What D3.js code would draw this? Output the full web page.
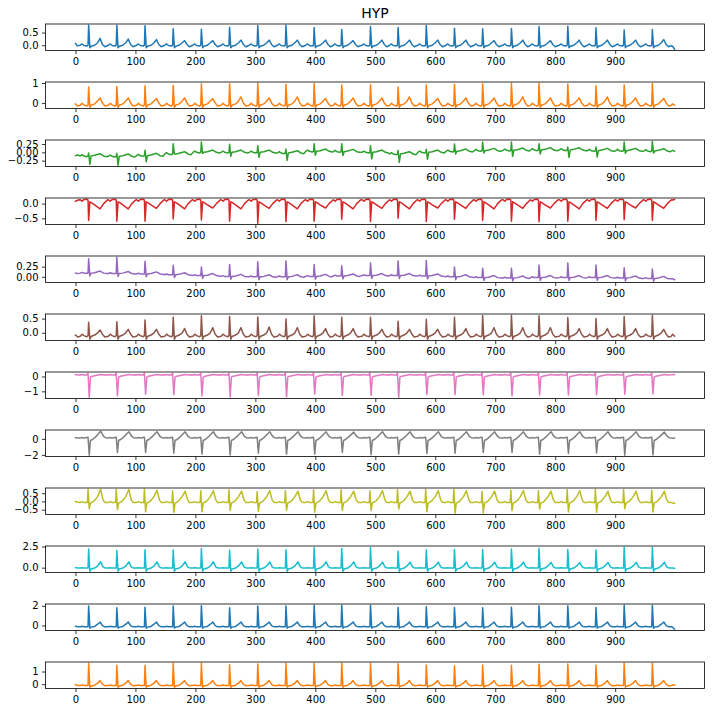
<!DOCTYPE html>
<html><head><meta charset="utf-8">
<script src="https://cdn.jsdelivr.net/npm/d3@7"></script>
<style>body{margin:0;background:#fff}svg{display:block}text{font-family:"DejaVu Sans",sans-serif}</style>
</head><body><div id="chart"></div>
<script>
// ---------------- data ----------------
const title = "HYP";
const leadNames = ["I","II","III","aVR","aVL","aVF","V1","V2","V3","V4","V5","V6"];
const colors = ["#1f77b4","#ff7f0e","#2ca02c","#d62728","#9467bd","#8c564b","#e377c2","#7f7f7f","#bcbd22","#17becf","#1f77b4","#ff7f0e"];
const xTicks = [0,100,200,300,400,500,600,700,800,900];
const yTicks = [[0,0.5],[0,1],[-0.25,0,0.25],[-0.5,0],[0,0.25],[0,0.5],[-1,0],[-2,0],[-0.5,0,0.5],[0,2.5],[0,2],[0,1]];
const yFormats = [".1f","d",".2f",".1f",".2f",".1f","d","d",".1f",".1f","d","d"];

// sample index of each heartbeat (R peak)
const beatTimes = [22,69,116,163,210,257,304,351,398,444,492,538,585,632,679,727,773,821,868,915,962];

// per-beat values (absolute), per lead
const baseI   = 0.0;
const rI      = [0.79,0.79,0.77,0.65,0.63,0.71,0.78,0.79,0.70,0.62,0.74,0.70,0.78,0.67,0.65,0.66,0.74,0.75,0.69,0.60,0.62];
const tI      = [0.27,0.24,0.22,0.18,0.18,0.20,0.20,0.20,0.20,0.18,0.20,0.20,0.20,0.20,0.18,0.20,0.18,0.20,0.20,0.20,0.22];
const baseII  = -0.1;
const rII     = [0.80,0.83,0.86,0.88,0.96,0.96,0.99,0.93,0.98,0.90,0.91,0.80,0.90,0.93,0.96,0.99,0.99,0.95,0.86,0.90,0.98];
const tII     = [0.25,0.25,0.22,0.25,0.22,0.30,0.25,0.30,0.22,0.25,0.25,0.30,0.22,0.25,0.25,0.30,0.25,0.25,0.30,0.25,0.22];
const baseIII = [-0.11,-0.12,-0.10,-0.05,0.0,0.0,0.0,-0.02,0.03,0.02,0.0,-0.05,0.0,0.03,0.05,0.06,0.07,0.07,0.05,0.05,0.04];
const rIII    = [-0.02,-0.03,0.06,0.26,0.31,0.24,0.20,0.10,0.26,0.26,0.20,0.06,0.09,0.25,0.31,0.31,0.26,0.16,0.16,0.31,0.335];
const sIII    = [-0.36,-0.39,-0.28,-0.05,-0.03,-0.12,-0.15,-0.24,-0.09,-0.10,-0.20,-0.30,-0.21,-0.05,-0.02,-0.12,-0.05,-0.15,-0.14,-0.03,-0.02];
const baseaVR = 0.1;
const raVR    = [-0.57,-0.60,-0.60,-0.52,-0.56,-0.60,-0.67,-0.61,-0.60,-0.53,-0.61,-0.50,-0.61,-0.53,-0.57,-0.60,-0.62,-0.60,-0.57,-0.55,-0.57];
const taVR    = [-0.18,-0.18,-0.16,-0.18,-0.15,-0.18,-0.16,-0.18,-0.15,-0.18,-0.16,-0.18,-0.15,-0.16,-0.18,-0.16,-0.15,-0.18,-0.16,-0.15,-0.16];
const baseaVL = [0.09,0.08,0.07,0.05,0.03,0.01,0.0,0.0,0.01,0.02,0.03,0.03,0.02,0.0,-0.02,-0.03,-0.02,-0.02,-0.02,-0.03,-0.04];
const raVL    = [0.44,0.48,0.38,0.28,0.24,0.30,0.37,0.39,0.30,0.27,0.34,0.39,0.40,0.24,0.21,0.21,0.29,0.34,0.29,0.22,0.19];
const baseaVF = -0.1;
const raVF    = [0.37,0.39,0.45,0.55,0.60,0.57,0.56,0.49,0.60,0.55,0.55,0.41,0.48,0.55,0.61,0.62,0.60,0.54,0.50,0.57,0.62];
const taVF    = [0.10,0.12,0.12,0.15,0.18,0.18,0.20,0.18,0.15,0.15,0.12,0.12,0.12,0.15,0.18,0.18,0.18,0.15,0.15,0.15,0.12];
const baseV1  = 0.1;
const rV1     = [-1.40,-1.29,-1.20,-1.22,-1.31,-1.38,-1.27,-1.36,-1.20,-1.27,-1.27,-1.40,-1.22,-1.22,-1.22,-1.31,-1.25,-1.25,-1.22,-1.20,-1.18];
const baseV2  = 0.1;
const rV2     = [-2.05,-1.70,-1.70,-1.78,-1.90,-2.00,-1.80,-1.90,-1.90,-1.70,-1.96,-1.90,-1.83,-1.80,-1.70,-1.70,-1.90,-1.83,-1.75,-2.05,-2.00];
const tV2     = [0.96,0.90,0.90,0.88,0.90,0.90,0.88,0.90,0.88,0.85,0.90,0.88,0.90,0.90,0.88,0.88,0.90,0.90,0.88,0.88,0.85];
const baseV3  = -0.06;
const rV3     = [0.74,0.74,0.74,0.65,0.65,0.70,0.60,0.65,0.70,0.70,0.65,0.72,0.74,0.74,0.60,0.68,0.65,0.72,0.74,0.72,0.68];
const sV3     = [-0.44,-0.50,-0.62,-0.66,-0.62,-0.55,-0.60,-0.53,-0.66,-0.55,-0.56,-0.46,-0.62,-0.72,-0.70,-0.56,-0.46,-0.64,-0.66,-0.44,-0.64];
const tV3     = [0.74,0.72,0.68,0.62,0.65,0.62,0.65,0.62,0.65,0.62,0.65,0.62,0.65,0.65,0.62,0.65,0.62,0.65,0.62,0.62,0.62];
const baseV4  = -0.05;
const rV4     = [2.20,2.05,2.12,2.10,2.26,2.05,2.20,2.12,2.38,2.26,2.38,1.93,2.10,2.15,2.15,2.20,2.30,2.15,2.10,2.42,2.42];
const tV4     = [0.70,0.68,0.68,0.70,0.70,0.68,0.68,0.68,0.68,0.68,0.65,0.65,0.65,0.65,0.65,0.65,0.62,0.62,0.62,0.62,0.65];
const baseV5  = -0.12;
const rV5     = [1.97,1.80,1.86,1.97,2.00,1.80,1.97,1.97,2.06,2.06,2.06,1.83,1.90,1.83,1.80,1.86,2.00,2.00,1.83,2.06,2.06];
const tV5     = 0.35;
const baseV6  = -0.1;
const rV6     = [1.66,1.49,1.49,1.66,1.66,1.54,1.60,1.66,1.66,1.66,1.66,1.62,1.52,1.43,1.52,1.49,1.57,1.60,1.49,1.66,1.66];
const tV6     = 0.28;

// beat wave shapes: [sample offset from R, value above baseline | 'r' | 's' | 't']
const waveI   = [[-14,0.0],[-11,0.05],[-8,-0.01],[-3,-0.03],[-1,0.0],[0,'r'],[2,-0.1],[4,-0.04],[10,0.0],[15,0.1],[19,'t'],[23,0.03],[27,-0.06],[31,-0.02]];
const waveII  = [[-14,-0.02],[-11,0.08],[-8,0.0],[-3,-0.06],[-1,0.0],[0,'r'],[2,-0.12],[4,-0.02],[10,0.05],[15,0.2],[19,'t'],[23,0.1],[27,-0.05],[31,-0.03]];
const waveIII = [[-14,0.0],[-11,0.04],[-8,0.0],[-3,-0.02],[-1,0.0],[0,'r'],[2,'s'],[4,0.0],[10,0.02],[19,0.07],[25,0.0],[30,-0.02]];
const waveaVR = [[-14,0.03],[-11,-0.02],[-8,0.04],[-3,0.05],[-1,0.02],[0,'r'],[2,-0.04],[4,-0.06],[10,-0.14],[19,'t'],[25,-0.1],[30,0.0],[32,0.03]];
const waveaVL = [[-14,0.0],[-11,0.02],[-8,0.0],[-1,0.0],[0,'r'],[2,-0.07],[4,0.0],[10,0.01],[19,0.05],[25,0.0],[30,-0.01]];
const waveaVF = [[-14,-0.02],[-11,0.05],[-8,0.0],[-3,-0.04],[-1,0.0],[0,'r'],[2,-0.13],[4,-0.03],[10,0.02],[15,0.1],[19,'t'],[23,0.05],[27,-0.05],[31,-0.03]];
const waveV1  = [[-14,0.0],[-11,0.03],[-8,0.0],[-3,0.0],[-1,0.12],[1,'r'],[3,-0.15],[6,-0.08],[12,-0.03],[20,0.03],[26,0.0],[31,0.01]];
const waveV2  = [[-14,0.0],[-11,0.08],[-8,0.0],[-1,0.1],[1,'r'],[3,-0.3],[7,-0.15],[13,0.25],[20,'t'],[25,0.2],[28,0.05],[32,0.0]];
const waveV3  = [[-14,0.0],[-11,0.05],[-8,0.0],[-2,0.0],[-1,'r'],[1,'s'],[3,-0.05],[9,0.08],[15,0.35],[20,'t'],[24,0.15],[27,0.0],[32,0.0]];
const waveV4  = [[-14,0.0],[-11,0.05],[-8,0.0],[-1,0.0],[0,'r'],[2,-0.38],[4,-0.1],[10,0.0],[15,0.25],[20,'t'],[24,0.15],[28,0.0],[32,0.0]];
const waveV5  = [[-14,0.0],[-11,0.03],[-8,0.0],[-1,0.0],[0,'r'],[2,-0.15],[4,-0.05],[10,0.02],[15,0.25],[19,'t'],[23,0.1],[27,-0.02],[32,0.0]];
const waveV6  = [[-14,0.0],[-11,0.03],[-8,0.0],[-1,0.0],[0,'r'],[2,-0.15],[4,-0.05],[10,0.02],[15,0.18],[19,'t'],[23,0.08],[27,-0.02],[32,0.0]];

// first and last samples (absolute values)
const startPts = [[[0,0.07],[3,-0.02]],[[0,-0.05],[3,-0.15]],[[0,-0.10],[4,-0.08]],[[0,0.08],[4,0.12]],[[0,0.09],[4,0.08]],[[0,-0.08],[4,-0.15]],[[0,0.12],[4,0.1]],[[0,0.15],[4,0.1]],[[0,0.0],[4,-0.05]],[[0,0.0],[4,-0.05]],[[0,-0.08],[4,-0.12]],[[0,-0.05],[4,-0.1]]];
const endPts   = [[[996,-0.05],[999,-0.16]],[[996,-0.05],[999,-0.12]],[[996,0.06],[999,0.03]],[[996,0.12],[999,0.14]],[[996,-0.05],[999,-0.07]],[[996,-0.05],[999,-0.12]],[[996,0.12],[999,0.13]],[[996,0.08],[999,0.1]],[[996,-0.1],[999,-0.12]],[[996,-0.05],[999,-0.08]],[[996,-0.2],[999,-0.39]],[[996,-0.05],[999,-0.08]]];

// ---------------- assembly ----------------
const leadBase  = [baseI,baseII,baseIII,baseaVR,baseaVL,baseaVF,baseV1,baseV2,baseV3,baseV4,baseV5,baseV6];
const leadR     = [rI,rII,rIII,raVR,raVL,raVF,rV1,rV2,rV3,rV4,rV5,rV6];
const leadS     = [null,null,sIII,null,null,null,null,null,sV3,null,null,null];
const leadT     = [tI,tII,null,taVR,null,taVF,null,tV2,tV3,tV4,tV5,tV6];
const leadWave  = [waveI,waveII,waveIII,waveaVR,waveaVL,waveaVF,waveV1,waveV2,waveV3,waveV4,waveV5,waveV6];

const at = (v,k) => Array.isArray(v) ? v[k] : v;
function series(i){
  const pts = startPts[i].map(d => [d[0], d[1]]);
  beatTimes.forEach((bt,k) => {
    leadWave[i].forEach(([off,val]) => {
      let y;
      if (val === 'r') y = at(leadR[i],k);
      else if (val === 's') y = at(leadS[i],k);
      else if (val === 't') y = at(leadT[i],k);
      else y = at(leadBase[i],k) + val;
      pts.push([bt+off, y]);
    });
  });
  endPts[i].forEach(d => pts.push([d[0], d[1]]));
  return pts;
}

// ---------------- drawing ----------------
const W = 712, H = 712;
const left = 45.5, right = 704.5, top0 = 24, pitch = 58, axH = 26.5;
const svg = d3.select("#chart").append("svg").attr("width",W).attr("height",H);

svg.append("text").attr("x",(left+right)/2).attr("y",17.5).attr("text-anchor","middle")
  .attr("font-size",14).attr("fill","#000").text(title);

const x = d3.scaleLinear().domain([-49.95,1048.95]).range([left,right]);

leadNames.forEach((name,i) => {
  const data = series(i);
  const [mn,mx] = d3.extent(data, d => d[1]);
  const pad = (mx-mn)*0.05;
  const y0 = top0 + i*pitch;
  const y = d3.scaleLinear().domain([mn-pad, mx+pad]).range([y0+axH, y0]);
  const g = svg.append("g");

  const xa = g.append("g").attr("transform",`translate(0,${y0+axH})`)
    .call(d3.axisBottom(x).tickValues(xTicks).tickSize(3.5).tickPadding(3.5).tickFormat(d3.format("d")));
  const ya = g.append("g").attr("transform",`translate(${left},0)`)
    .call(d3.axisLeft(y).tickValues(yTicks[i]).tickSize(3.5).tickPadding(3.5).tickFormat(d3.format(yFormats[i])));
  [xa,ya].forEach(a => {
    a.select(".domain").remove();
    a.selectAll(".tick line").attr("stroke","#000").attr("stroke-width",0.8);
    a.selectAll(".tick text").attr("fill","#000").attr("font-size",10).attr("font-family","DejaVu Sans");
  });

  g.append("path").datum(data)
    .attr("fill","none").attr("stroke",colors[i]).attr("stroke-width",1.5)
    .attr("stroke-linejoin","round").attr("stroke-linecap","square")
    .attr("d", d3.line().x(d => x(d[0])).y(d => y(d[1])));

  g.append("rect").attr("x",left).attr("y",y0).attr("width",right-left).attr("height",axH)
    .attr("fill","none").attr("stroke","#000").attr("stroke-width",0.8);
});
</script></body></html>
